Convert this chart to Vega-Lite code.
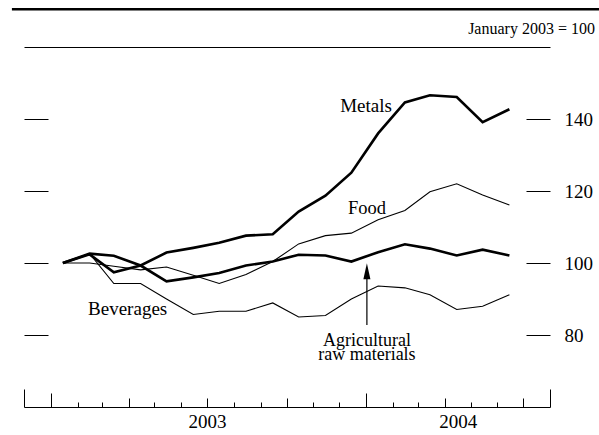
{
  "$schema": "https://vega.github.io/schema/vega-lite/v6.json",
  "width": 526,
  "height": 360,
  "autosize": {"type": "none"},
  "padding": {"left": 24, "right": 49, "top": 47, "bottom": 28},
  "background": "white",
  "config": {"view": {"stroke": null}, "axis": {"grid": false}, "text": {"font": "Liberation Serif", "color": "black"}},
  "datasets": {
    "prices": [
      {"series": "Metals", "date": "2003-01-15", "value": 100},
      {"series": "Metals", "date": "2003-02-15", "value": 102.4},
      {"series": "Metals", "date": "2003-03-15", "value": 97.4},
      {"series": "Metals", "date": "2003-04-15", "value": 99.3},
      {"series": "Metals", "date": "2003-05-15", "value": 102.9},
      {"series": "Metals", "date": "2003-06-15", "value": 104.2},
      {"series": "Metals", "date": "2003-07-15", "value": 105.6},
      {"series": "Metals", "date": "2003-08-15", "value": 107.6},
      {"series": "Metals", "date": "2003-09-15", "value": 108.0},
      {"series": "Metals", "date": "2003-10-15", "value": 114.3},
      {"series": "Metals", "date": "2003-11-15", "value": 118.7},
      {"series": "Metals", "date": "2003-12-15", "value": 125.1},
      {"series": "Metals", "date": "2004-01-15", "value": 136.0},
      {"series": "Metals", "date": "2004-02-15", "value": 144.6},
      {"series": "Metals", "date": "2004-03-15", "value": 146.6},
      {"series": "Metals", "date": "2004-04-15", "value": 146.1},
      {"series": "Metals", "date": "2004-05-15", "value": 139.1},
      {"series": "Metals", "date": "2004-06-15", "value": 142.7},
      {"series": "Agricultural raw materials", "date": "2003-01-15", "value": 100},
      {"series": "Agricultural raw materials", "date": "2003-02-15", "value": 102.6},
      {"series": "Agricultural raw materials", "date": "2003-03-15", "value": 102.0},
      {"series": "Agricultural raw materials", "date": "2003-04-15", "value": 99.3},
      {"series": "Agricultural raw materials", "date": "2003-05-15", "value": 94.9},
      {"series": "Agricultural raw materials", "date": "2003-06-15", "value": 96.0},
      {"series": "Agricultural raw materials", "date": "2003-07-15", "value": 97.2},
      {"series": "Agricultural raw materials", "date": "2003-08-15", "value": 99.3},
      {"series": "Agricultural raw materials", "date": "2003-09-15", "value": 100.4},
      {"series": "Agricultural raw materials", "date": "2003-10-15", "value": 102.3},
      {"series": "Agricultural raw materials", "date": "2003-11-15", "value": 102.1},
      {"series": "Agricultural raw materials", "date": "2003-12-15", "value": 100.4},
      {"series": "Agricultural raw materials", "date": "2004-01-15", "value": 103.0},
      {"series": "Agricultural raw materials", "date": "2004-02-15", "value": 105.2},
      {"series": "Agricultural raw materials", "date": "2004-03-15", "value": 104.0},
      {"series": "Agricultural raw materials", "date": "2004-04-15", "value": 102.1},
      {"series": "Agricultural raw materials", "date": "2004-05-15", "value": 103.7},
      {"series": "Agricultural raw materials", "date": "2004-06-15", "value": 102.1},
      {"series": "Food", "date": "2003-01-15", "value": 100},
      {"series": "Food", "date": "2003-02-15", "value": 100.0},
      {"series": "Food", "date": "2003-03-15", "value": 99.1},
      {"series": "Food", "date": "2003-04-15", "value": 98.1},
      {"series": "Food", "date": "2003-05-15", "value": 98.9},
      {"series": "Food", "date": "2003-06-15", "value": 96.6},
      {"series": "Food", "date": "2003-07-15", "value": 94.3},
      {"series": "Food", "date": "2003-08-15", "value": 96.8},
      {"series": "Food", "date": "2003-09-15", "value": 100.4},
      {"series": "Food", "date": "2003-10-15", "value": 105.3},
      {"series": "Food", "date": "2003-11-15", "value": 107.6},
      {"series": "Food", "date": "2003-12-15", "value": 108.3},
      {"series": "Food", "date": "2004-01-15", "value": 112.0},
      {"series": "Food", "date": "2004-02-15", "value": 114.6},
      {"series": "Food", "date": "2004-03-15", "value": 119.8},
      {"series": "Food", "date": "2004-04-15", "value": 122.0},
      {"series": "Food", "date": "2004-05-15", "value": 118.9},
      {"series": "Food", "date": "2004-06-15", "value": 116.1},
      {"series": "Beverages", "date": "2003-01-15", "value": 100},
      {"series": "Beverages", "date": "2003-02-15", "value": 102.6},
      {"series": "Beverages", "date": "2003-03-15", "value": 94.3},
      {"series": "Beverages", "date": "2003-04-15", "value": 94.3},
      {"series": "Beverages", "date": "2003-05-15", "value": 90.0},
      {"series": "Beverages", "date": "2003-06-15", "value": 85.7},
      {"series": "Beverages", "date": "2003-07-15", "value": 86.6},
      {"series": "Beverages", "date": "2003-08-15", "value": 86.6},
      {"series": "Beverages", "date": "2003-09-15", "value": 88.9},
      {"series": "Beverages", "date": "2003-10-15", "value": 85.0},
      {"series": "Beverages", "date": "2003-11-15", "value": 85.4},
      {"series": "Beverages", "date": "2003-12-15", "value": 90.0},
      {"series": "Beverages", "date": "2004-01-15", "value": 93.6},
      {"series": "Beverages", "date": "2004-02-15", "value": 93.1},
      {"series": "Beverages", "date": "2004-03-15", "value": 91.2},
      {"series": "Beverages", "date": "2004-04-15", "value": 87.1},
      {"series": "Beverages", "date": "2004-05-15", "value": 88.0},
      {"series": "Beverages", "date": "2004-06-15", "value": 91.2}
    ]
  },
  "layer": [
    {
      "data": {"name": "prices"},
      "mark": {"type": "line", "color": "black"},
      "encoding": {
        "x": {
          "field": "date", "type": "temporal",
          "scale": {"type": "utc", "domain": [{"year": 2002, "month": 12, "date": 1, "utc": true}, {"year": 2004, "month": 8, "date": 1, "utc": true}]},
          "axis": {
            "orient": "bottom", "title": null,
            "values": [
              {"year": 2002, "month": 12, "date": 1, "utc": true},
              {"year": 2003, "month": 1, "date": 1, "utc": true},
              {"year": 2003, "month": 2, "date": 1, "utc": true},
              {"year": 2003, "month": 3, "date": 1, "utc": true},
              {"year": 2003, "month": 4, "date": 1, "utc": true},
              {"year": 2003, "month": 5, "date": 1, "utc": true},
              {"year": 2003, "month": 6, "date": 1, "utc": true},
              {"year": 2003, "month": 7, "date": 1, "utc": true},
              {"year": 2003, "month": 8, "date": 1, "utc": true},
              {"year": 2003, "month": 9, "date": 1, "utc": true},
              {"year": 2003, "month": 10, "date": 1, "utc": true},
              {"year": 2003, "month": 11, "date": 1, "utc": true},
              {"year": 2003, "month": 12, "date": 1, "utc": true},
              {"year": 2004, "month": 1, "date": 1, "utc": true},
              {"year": 2004, "month": 2, "date": 1, "utc": true},
              {"year": 2004, "month": 3, "date": 1, "utc": true},
              {"year": 2004, "month": 4, "date": 1, "utc": true},
              {"year": 2004, "month": 5, "date": 1, "utc": true},
              {"year": 2004, "month": 6, "date": 1, "utc": true},
              {"year": 2004, "month": 7, "date": 1, "utc": true},
              {"year": 2004, "month": 8, "date": 1, "utc": true}
            ],
            "domain": true, "domainColor": "black", "domainWidth": 1,
            "tickColor": "black", "tickWidth": 1,
            "tickSize": {
              "condition": [
                {"test": "utcyear(datum.value) == 2002 || (utcyear(datum.value) == 2004 && utcmonth(datum.value) == 7)", "value": -18},
                {"test": "utcmonth(datum.value) == 0", "value": -14},
                {"test": "utcmonth(datum.value) % 3 == 0", "value": -9}
              ],
              "value": -5
            },
            "labelExpr": "(utcyear(datum.value) == 2003 && utcmonth(datum.value) == 6) ? '2003' : ((utcyear(datum.value) == 2004 && utcmonth(datum.value) == 3) ? '2004' : '')",
            "labelOffset": {"condition": {"test": "utcyear(datum.value) == 2004", "value": 13}, "value": 0},
            "labelOverlap": false, "labelFlush": false,
            "labelPadding": 14, "labelBaseline": "top",
            "labelFont": "Liberation Serif", "labelFontSize": 19, "labelColor": "black"
          }
        },
        "y": {
          "field": "value", "type": "quantitative",
          "scale": {"domain": [60, 160], "nice": false, "zero": false},
          "axis": {"orient": "left", "values": [80, 100, 120, 140], "domain": false, "labels": false, "tickSize": -24, "tickColor": "black", "tickWidth": 1, "title": null}
        },
        "detail": {"field": "series"},
        "strokeWidth": {"condition": {"test": "datum.series == 'Metals' || datum.series == 'Agricultural raw materials'", "value": 2.6}, "value": 1.1}
      }
    },
    {
      "data": {"values": [{}]},
      "mark": {"type": "rule", "color": "black", "strokeWidth": 2.5},
      "encoding": {
        "x": {"datum": {"year": 2002, "month": 11, "date": 17, "utc": true}, "type": "temporal",
              "axis": {"orient": "top", "labels": false, "ticks": false, "domain": true, "domainColor": "black", "domainWidth": 1, "title": null}},
        "x2": {"datum": {"year": 2004, "month": 9, "date": 28, "utc": true}},
        "y": {"datum": 170.5, "type": "quantitative",
              "axis": {"orient": "right", "values": [80, 100, 120, 140], "domain": false, "tickSize": -24, "tickColor": "black", "tickWidth": 1,
                       "labelPadding": 38, "labelAlign": "left", "labelFont": "Liberation Serif", "labelFontSize": 19, "labelColor": "black", "title": null}}
      }
    },
    {
      "data": {"values": [{}]},
      "mark": {"type": "text", "align": "right", "baseline": "middle", "fontSize": 16},
      "encoding": {
        "x": {"datum": {"year": 2004, "month": 9, "date": 22, "utc": true}, "type": "temporal", "axis": null},
        "y": {"datum": 165.1, "type": "quantitative", "axis": null},
        "text": {"value": "January 2003 = 100"}
      }
    },
    {
      "data": {"values": [{}]},
      "mark": {"type": "text", "align": "center", "baseline": "middle", "fontSize": 19},
      "encoding": {
        "x": {"datum": {"year": 2004, "month": 1, "date": 1, "utc": true}, "type": "temporal", "axis": null},
        "y": {"datum": 143.5, "type": "quantitative", "axis": null},
        "text": {"value": "Metals"}
      }
    },
    {
      "data": {"values": [{}]},
      "mark": {"type": "text", "align": "center", "baseline": "middle", "fontSize": 18.5},
      "encoding": {
        "x": {"datum": {"year": 2004, "month": 1, "date": 2, "utc": true}, "type": "temporal", "axis": null},
        "y": {"datum": 115.3, "type": "quantitative", "axis": null},
        "text": {"value": "Food"}
      }
    },
    {
      "data": {"values": [{}]},
      "mark": {"type": "text", "align": "center", "baseline": "middle", "fontSize": 19},
      "encoding": {
        "x": {"datum": {"year": 2003, "month": 3, "date": 31, "utc": true}, "type": "temporal", "axis": null},
        "y": {"datum": 87.2, "type": "quantitative", "axis": null},
        "text": {"value": "Beverages"}
      }
    },
    {
      "data": {"values": [{}]},
      "mark": {"type": "text", "align": "center", "baseline": "middle", "fontSize": 18, "lineHeight": 14},
      "encoding": {
        "x": {"datum": {"year": 2004, "month": 1, "date": 2, "utc": true}, "type": "temporal", "axis": null},
        "y": {"datum": 78.4, "type": "quantitative", "axis": null},
        "text": {"value": ["Agricultural", "raw materials"]}
      }
    },
    {
      "data": {"values": [{}]},
      "mark": {"type": "rule", "color": "black", "strokeWidth": 1.2},
      "encoding": {
        "x": {"datum": {"year": 2004, "month": 1, "date": 2, "utc": true}, "type": "temporal", "axis": null},
        "y": {"datum": 82.8, "type": "quantitative", "axis": null},
        "y2": {"datum": 96.4}
      }
    },
    {
      "data": {"values": [{}]},
      "mark": {"type": "point", "filled": true, "color": "black", "opacity": 1, "shape": "M0,-1L0.44,1L-0.44,1Z", "size": 256, "strokeWidth": 0},
      "encoding": {
        "x": {"datum": {"year": 2004, "month": 1, "date": 2, "utc": true}, "type": "temporal", "axis": null},
        "y": {"datum": 97.7, "type": "quantitative", "axis": null}
      }
    }
  ],
  "resolve": {"axis": {"x": "independent", "y": "independent"}}
}
